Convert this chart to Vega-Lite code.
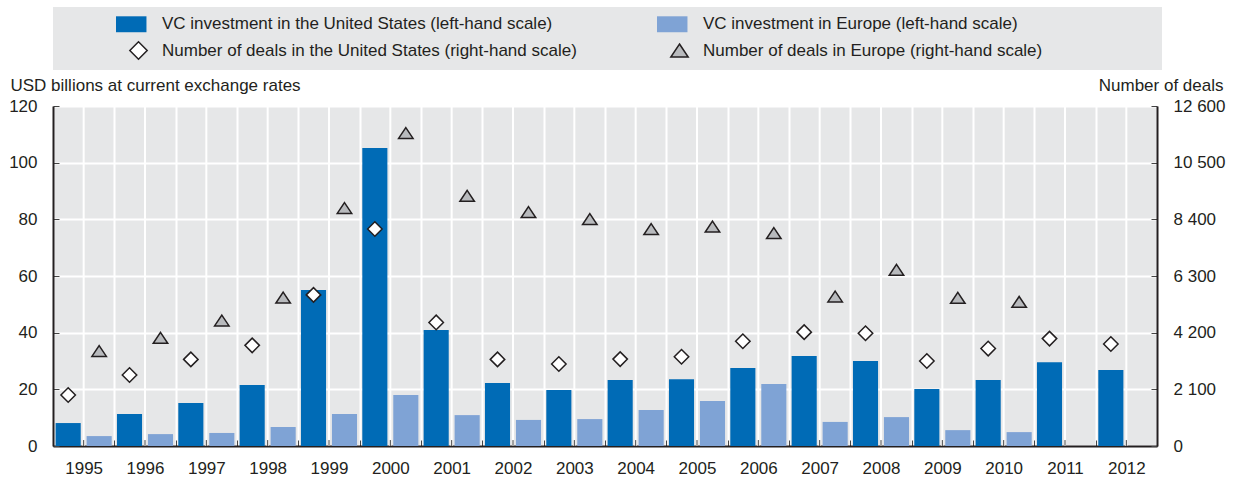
{
  "$schema": "https://vega.github.io/schema/vega-lite/v6.json",
  "width": 1104,
  "height": 340,
  "autosize": {"type": "none"},
  "padding": {"left": 53, "top": 106, "right": 77, "bottom": 32},
  "background": "white",
  "config": {
    "font": "Liberation Sans",
    "view": {"fill": "#e6e7e8", "stroke": null},
    "axis": {
      "labelFont": "Liberation Sans", "labelFontSize": 17, "labelColor": "#231f20",
      "titleFont": "Liberation Sans", "titleFontSize": 17, "titleFontWeight": "normal", "titleColor": "#231f20",
      "domainColor": "#231f20", "domainWidth": 2,
      "tickColor": "#444444", "tickWidth": 1, "tickSize": -6,
      "gridColor": "white", "gridWidth": 2, "gridOpacity": 1
    }
  },
  "data": {"values": [
    {"year": 1995, "region": "US", "series": "usInv", "value": 8.1},
    {"year": 1996, "region": "US", "series": "usInv", "value": 11.3},
    {"year": 1997, "region": "US", "series": "usInv", "value": 15.2},
    {"year": 1998, "region": "US", "series": "usInv", "value": 21.5},
    {"year": 1999, "region": "US", "series": "usInv", "value": 55.1},
    {"year": 2000, "region": "US", "series": "usInv", "value": 105.2},
    {"year": 2001, "region": "US", "series": "usInv", "value": 40.9},
    {"year": 2002, "region": "US", "series": "usInv", "value": 22.2},
    {"year": 2003, "region": "US", "series": "usInv", "value": 19.8},
    {"year": 2004, "region": "US", "series": "usInv", "value": 23.3},
    {"year": 2005, "region": "US", "series": "usInv", "value": 23.6},
    {"year": 2006, "region": "US", "series": "usInv", "value": 27.5},
    {"year": 2007, "region": "US", "series": "usInv", "value": 31.8},
    {"year": 2008, "region": "US", "series": "usInv", "value": 30.0},
    {"year": 2009, "region": "US", "series": "usInv", "value": 20.1},
    {"year": 2010, "region": "US", "series": "usInv", "value": 23.3},
    {"year": 2011, "region": "US", "series": "usInv", "value": 29.6},
    {"year": 2012, "region": "US", "series": "usInv", "value": 26.8},
    {"year": 1995, "region": "EU", "series": "euInv", "value": 3.5},
    {"year": 1996, "region": "EU", "series": "euInv", "value": 4.2},
    {"year": 1997, "region": "EU", "series": "euInv", "value": 4.6},
    {"year": 1998, "region": "EU", "series": "euInv", "value": 6.7},
    {"year": 1999, "region": "EU", "series": "euInv", "value": 11.3},
    {"year": 2000, "region": "EU", "series": "euInv", "value": 18.0},
    {"year": 2001, "region": "EU", "series": "euInv", "value": 10.9},
    {"year": 2002, "region": "EU", "series": "euInv", "value": 9.2},
    {"year": 2003, "region": "EU", "series": "euInv", "value": 9.5},
    {"year": 2004, "region": "EU", "series": "euInv", "value": 12.7},
    {"year": 2005, "region": "EU", "series": "euInv", "value": 15.9},
    {"year": 2006, "region": "EU", "series": "euInv", "value": 21.9},
    {"year": 2007, "region": "EU", "series": "euInv", "value": 8.5},
    {"year": 2008, "region": "EU", "series": "euInv", "value": 10.2},
    {"year": 2009, "region": "EU", "series": "euInv", "value": 5.6},
    {"year": 2010, "region": "EU", "series": "euInv", "value": 4.9},
    {"year": 1995, "region": "US", "series": "usDeals", "value": 1890},
    {"year": 1996, "region": "US", "series": "usDeals", "value": 2630},
    {"year": 1997, "region": "US", "series": "usDeals", "value": 3210},
    {"year": 1998, "region": "US", "series": "usDeals", "value": 3730},
    {"year": 1999, "region": "US", "series": "usDeals", "value": 5600},
    {"year": 2000, "region": "US", "series": "usDeals", "value": 8040},
    {"year": 2001, "region": "US", "series": "usDeals", "value": 4580},
    {"year": 2002, "region": "US", "series": "usDeals", "value": 3210},
    {"year": 2003, "region": "US", "series": "usDeals", "value": 3040},
    {"year": 2004, "region": "US", "series": "usDeals", "value": 3220},
    {"year": 2005, "region": "US", "series": "usDeals", "value": 3310},
    {"year": 2006, "region": "US", "series": "usDeals", "value": 3880},
    {"year": 2007, "region": "US", "series": "usDeals", "value": 4220},
    {"year": 2008, "region": "US", "series": "usDeals", "value": 4180},
    {"year": 2009, "region": "US", "series": "usDeals", "value": 3150},
    {"year": 2010, "region": "US", "series": "usDeals", "value": 3610},
    {"year": 2011, "region": "US", "series": "usDeals", "value": 3980},
    {"year": 2012, "region": "US", "series": "usDeals", "value": 3780},
    {"year": 1995, "region": "EU", "series": "euDeals", "value": 3520},
    {"year": 1996, "region": "EU", "series": "euDeals", "value": 4010},
    {"year": 1997, "region": "EU", "series": "euDeals", "value": 4650},
    {"year": 1998, "region": "EU", "series": "euDeals", "value": 5500},
    {"year": 1999, "region": "EU", "series": "euDeals", "value": 8820},
    {"year": 2000, "region": "EU", "series": "euDeals", "value": 11600},
    {"year": 2001, "region": "EU", "series": "euDeals", "value": 9270},
    {"year": 2002, "region": "EU", "series": "euDeals", "value": 8670},
    {"year": 2003, "region": "EU", "series": "euDeals", "value": 8410},
    {"year": 2004, "region": "EU", "series": "euDeals", "value": 8040},
    {"year": 2005, "region": "EU", "series": "euDeals", "value": 8130},
    {"year": 2006, "region": "EU", "series": "euDeals", "value": 7890},
    {"year": 2007, "region": "EU", "series": "euDeals", "value": 5540},
    {"year": 2008, "region": "EU", "series": "euDeals", "value": 6530},
    {"year": 2009, "region": "EU", "series": "euDeals", "value": 5490},
    {"year": 2010, "region": "EU", "series": "euDeals", "value": 5340}
  ]},
  "layer": [
    {
      "transform": [{"filter": {"field": "series", "equal": "usInv"}}],
      "mark": {"type": "rule", "color": "white", "strokeWidth": 2},
      "encoding": {
        "x": {"field": "year", "type": "ordinal"}
      }
    },
    {
      "transform": [{"filter": {"field": "series", "oneOf": ["usInv", "euInv"]}}],
      "mark": {"type": "bar"},
      "encoding": {
        "x": {
          "field": "year", "type": "ordinal",
          "scale": {"paddingInner": 0, "paddingOuter": 0},
          "axis": {"title": null, "labelAngle": 0, "labelAlign": "center", "tickBand": "extent", "grid": true, "labelPadding": 28}
        },
        "xOffset": {
          "field": "region", "type": "nominal",
          "scale": {"domain": ["US", "EU"], "paddingInner": 0.19, "paddingOuter": 0.085}
        },
        "y": {
          "field": "value", "type": "quantitative",
          "scale": {"domain": [0, 120], "nice": false},
          "axis": {
            "orient": "left", "values": [0, 20, 40, 60, 80, 100, 120], "grid": true,
            "title": "USD billions at current exchange rates",
            "titleAngle": 0, "titleAlign": "left", "titleBaseline": "alphabetic",
            "titleX": -43, "titleY": -16, "labelPadding": 22
          }
        },
        "fill": {
          "field": "series", "type": "nominal",
          "scale": {
            "domain": ["usInv", "euInv", "padA", "usDeals", "euDeals", "padB"],
            "range": ["#006bb6", "#7fa3d5", "rgba(0,0,0,0)", "#ffffff", "#b8babd", "rgba(0,0,0,0)"]
          },
          "legend": {
            "orient": "none", "legendX": 0, "legendY": -99, "columns": 3, "direction": "horizontal", "gridAlign": "each",
            "title": " ", "titleOrient": "left", "titlePadding": 69, "titleFontSize": 1,
            "fillColor": "#e6e7e8", "padding": 7,
            "labelFont": "Liberation Sans", "labelFontSize": 17, "labelColor": "#231f20", "labelLimit": 700,
            "symbolSize": 300, "symbolStrokeWidth": 1.5, "labelOffset": 14,
            "rowPadding": 2, "columnPadding": 76,
            "labelExpr": "datum.value == 'usInv' ? 'VC investment in the United States (left-hand scale)' : datum.value == 'euInv' ? 'VC investment in Europe (left-hand scale)' : datum.value == 'usDeals' ? 'Number of deals in the United States (right-hand scale)' : datum.value == 'euDeals' ? 'Number of deals in Europe (right-hand scale)' : ''"
          }
        }
      }
    },
    {
      "transform": [{"filter": {"field": "series", "oneOf": ["usDeals", "euDeals"]}}],
      "mark": {"type": "point", "filled": true, "size": 210, "strokeWidth": 1.5, "opacity": 1},
      "encoding": {
        "x": {"field": "year", "type": "ordinal"},
        "xOffset": {"field": "region", "type": "nominal"},
        "y": {
          "field": "value", "type": "quantitative",
          "scale": {"domain": [0, 12600], "nice": false},
          "axis": {
            "orient": "right", "values": [0, 2100, 4200, 6300, 8400, 10500, 12600], "grid": false,
            "title": "Number of deals",
            "titleAngle": 0, "titleAlign": "right", "titleBaseline": "alphabetic",
            "titleX": 66, "titleY": -16, "labelPadding": 22,
            "labelExpr": "replace(format(datum.value, ','), ',', ' ')"
          }
        },
        "fill": {
          "field": "series", "type": "nominal",
          "scale": {
            "domain": ["usInv", "euInv", "padA", "usDeals", "euDeals", "padB"],
            "range": ["#006bb6", "#7fa3d5", "rgba(0,0,0,0)", "#ffffff", "#b8babd", "rgba(0,0,0,0)"]
          }
        },
        "stroke": {
          "field": "series", "type": "nominal",
          "scale": {
            "domain": ["usInv", "euInv", "padA", "usDeals", "euDeals", "padB"],
            "range": ["rgba(0,0,0,0)", "rgba(0,0,0,0)", "rgba(0,0,0,0)", "#231f20", "#231f20", "rgba(0,0,0,0)"]
          }
        },
        "shape": {
          "field": "series", "type": "nominal",
          "scale": {
            "domain": ["usInv", "euInv", "padA", "usDeals", "euDeals", "padB"],
            "range": ["M-2.6,-0.92H0.92V0.92H-2.6Z", "M-2.6,-0.92H0.92V0.92H-2.6Z", "circle", "diamond", "M0,-0.75L1,0.75L-1,0.75Z", "circle"]
          }
        }
      }
    },
    {
      "transform": [{"filter": {"field": "series", "equal": "usInv"}}],
      "mark": {"type": "rule", "color": "#444444", "strokeWidth": 1},
      "encoding": {
        "x": {"field": "year", "type": "ordinal"},
        "y": {"datum": 0, "type": "quantitative", "scale": {"domain": [0, 120], "nice": false}, "axis": null},
        "y2": {"datum": 2.1}
      }
    }
  ],
  "resolve": {"scale": {"y": "independent"}, "axis": {"y": "independent"}}
}
